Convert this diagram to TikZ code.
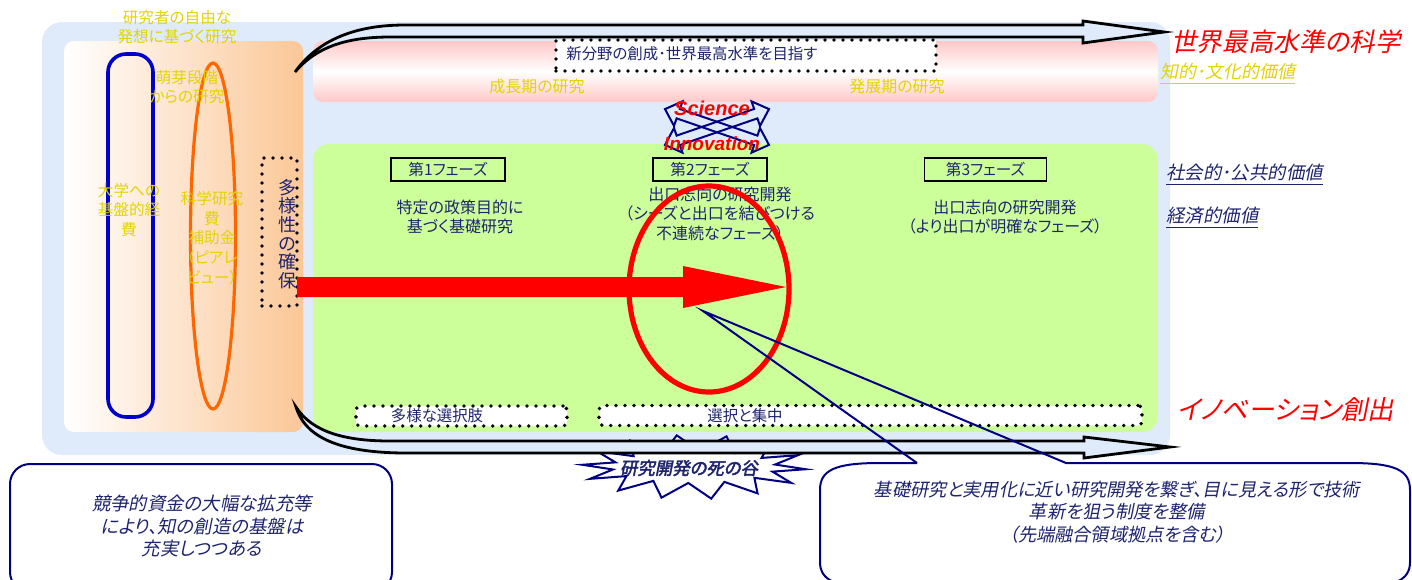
\documentclass[tikz,border=0pt]{standalone}
\usepackage{fontspec}
\setmainfont{Liberation Sans}
\newfontfamily\jp[RawFeature=+palt]{Noto Sans CJK JP}
\newfontfamily\jpi[RawFeature=+palt,FakeSlant=0.2]{Noto Sans CJK JP}
\newfontfamily\jpbi[RawFeature=+palt,FakeSlant=0.2,FakeBold=2.5]{Noto Sans CJK JP}
\newcommand\fsz[2]{\fontsize{#1pt}{#2pt}\selectfont}
\definecolor{bgblue}{HTML}{DFEBFA}
\definecolor{peach}{HTML}{FBC797}
\definecolor{pinkb}{HTML}{FFC8C8}
\definecolor{greenb}{HTML}{CCFF99}
\definecolor{ytext}{HTML}{E2D400}
\definecolor{navyt}{HTML}{1E246E}
\definecolor{navyl}{HTML}{000080}
\definecolor{orng}{HTML}{FF6600}
\definecolor{blu}{HTML}{0000CC}
\begin{document}
\begin{tikzpicture}[x=0.5pt,y=-0.5pt,
  jt/.style={inner sep=0pt, align=center},
  dotbox/.style={draw=black, line width=1.9pt, line cap=round, dash pattern=on 0pt off 4.5pt, fill=white, inner sep=0pt},
  phbox/.style={draw=black, line width=0.8pt, inner sep=0pt, minimum height=11.3pt, text=navyt, font=\jp\fsz{7.8}{8}},
  dbarrow/.style={draw=black, line width=1.4pt, fill=bgblue, line join=miter},
  xarrow/.style={draw=navyl, line width=1pt, line join=miter},
]
\useasboundingbox (0,0) rectangle (1412,579);
\clip (0,0) rectangle (1412,579);

% backgrounds
\fill[bgblue, rounded corners=10pt] (42,22) rectangle (1170,455);
\shade[left color=white, right color=peach, rounded corners=5pt] (64,41) rectangle (303,432);
\draw[blu, line width=1.8pt, rounded corners=9pt] (108,54) rectangle (153,417);
\draw[orng, line width=1.6pt] (213,236) ellipse [x radius=11.25pt, y radius=86.5pt];
\shade[top color=pinkb, bottom color=pinkb, middle color=white, rounded corners=5pt] (313,41) rectangle (1158,102);
\fill[greenb, rounded corners=8pt] (313,144) rectangle (1158,432);

% left yellow texts
\node[jt, text=ytext, font=\jp\fsz{7.8}{9.8}] (t1) at (177,27) {研究者の自由な\\発想に基づく研究};
\node[jt, text=ytext, font=\jp\fsz{7.8}{9.6}] (t2) at (187,87) {萌芽段階\\からの研究};
\node[jt, text=ytext, font=\jp\fsz{7.8}{9.8}] (t3) at (129,210) {大学への\\基盤的経\\費};
\node[jt, text=ytext, font=\jp\fsz{7.8}{9.8}] (t4) at (212,238) {科学研究\\費\\補助金\\（ピアレ\\ビュー）};

% diversity box
\node[dotbox, fill=none, minimum width=17.5pt, minimum height=74pt] (divbox) at (279.5,232) {};
\node[jt, text=navyt, font=\jp\fsz{9}{9.3}] (divtxt) at (287,234) {多\\様\\性\\の\\確\\保};

% pink band texts
\node[dotbox, minimum width=190pt, minimum height=15.5pt] (newbox) at (746,55.5) {};
\node[jt, anchor=west, text=navyt, font=\jp\fsz{7.7}{9}] (newtxt) at (566,54) {新分野の創成･世界最高水準を目指す};
\node[jt, text=ytext, font=\jp\fsz{8}{9}] (grow) at (537,86) {成長期の研究};
\node[jt, text=ytext, font=\jp\fsz{8}{9}] (devel) at (897,86) {発展期の研究};

% phases
\node[phbox, minimum width=57pt] (ph1) at (448,169.5) {第1フェーズ};
\node[phbox, minimum width=57pt] (ph2) at (710,169.5) {第2フェーズ};
\node[phbox, minimum width=61pt] (ph3) at (985.5,169.5) {第3フェーズ};
\node[jt, text=navyt, font=\jp\fsz{8}{9.6}] (p1t) at (460,217) {特定の政策目的に\\基づく基礎研究};
\node[jt, text=navyt, font=\jp\fsz{8}{9.8}] (p2t) at (720,214) {出口志向の研究開発\\（シーズと出口を結びつける\\不連続なフェーズ）};
\node[jt, text=navyt, font=\jp\fsz{8}{9.6}] (p3t) at (1005,217) {出口志向の研究開発\\（より出口が明確なフェーズ）};

% bottom dotted boxes
\node[dotbox, rounded corners=2pt, minimum width=105.5pt, minimum height=10pt] (optbox) at (461.5,416) {};
\node[jt, text=navyt, font=\jp\fsz{7.7}{9}] (opttxt) at (437,416) {多様な選択肢};
\node[dotbox, rounded corners=2pt, minimum width=271.5pt, minimum height=10pt] (selbox) at (870.5,415.5) {};
\node[jt, text=navyt, font=\jp\fsz{7.7}{9}] (seltxt) at (745,416) {選択と集中};

% red arrow and ellipse
\fill[red] (297,277) -- (683,277) -- (683,266) -- (786,287) -- (683,308) -- (683,297) -- (297,297) -- cycle;
\draw[red, line width=2.6pt] (709,289) ellipse [x radius=40pt, y radius=51.5pt];

% top double arrow
\draw[dbarrow] (295,72) .. controls (318,40) and (355,25) .. (405,25) -- (1083,25) -- (1083,21) -- (1164,32) -- (1083,43) -- (1083,37) -- (391,37) .. controls (350,37) and (318,45) .. (295,72) -- cycle;

% starburst (behind bottom arrow)
\coordinate (sbc) at (694,467);
\draw[navyl, line width=1pt, fill=white, line join=miter]
  plot[samples at={0,1,...,27}, variable=\k]
  ({694 + (112 - 30*mod(\k,2))*cos(12.857*\k + 4)}, {467 + (32 - 16*mod(\k,2))*sin(12.857*\k + 4)}) -- cycle;
% bottom double arrow
\draw[dbarrow] (296,407) .. controls (312,432) and (345,441) .. (390,441) -- (1084,441) -- (1084,437) -- (1170,447) -- (1084,458) -- (1084,453) -- (407,453) .. controls (345,453) and (306,440) .. (296,407) -- cycle;
\node[jt, text=navyt, font=\jpbi\fsz{8.7}{9}] (sbt) at (689,468) {研究開発の死の谷};

% science / innovation cross
\begin{scope}[shift={(717,127)}, rotate=19]
\draw[xarrow] (-55,0) -- (-41,-13) -- (-41,-5) -- (41,-5) -- (41,-13) -- (55,0) -- (41,13) -- (41,5) -- (-41,5) -- (-41,13) -- cycle;
\end{scope}
\begin{scope}[shift={(717,127)}, rotate=-19]
\draw[xarrow] (-55,0) -- (-41,-13) -- (-41,-5) -- (41,-5) -- (41,-13) -- (55,0) -- (41,13) -- (41,5) -- (-41,5) -- (-41,13) -- cycle;
\end{scope}
\node[jt, text=red, font=\bfseries\itshape\fsz{10}{11}] (sci) at (712,108) {Science};
\node[jt, text=red, font=\bfseries\itshape\fsz{9.5}{11}] (inno) at (712,144) {Innovation};

% right labels
\node[jt, text=red, font=\jpi\fsz{12.8}{14}] (r1) at (1286,42) {世界最高水準の科学};
\node[jt, anchor=west, text=ytext, font=\jpi\fsz{9}{10}] (r2) at (1160,74) {\underline{知的･文化的価値}};
\node[jt, anchor=west, text=navyt, font=\jpi\fsz{9.2}{10}] (r3) at (1166,175) {\underline{社会的･公共的価値}};
\node[jt, anchor=west, text=navyt, font=\jpi\fsz{9.2}{10}] (r4) at (1166,218) {\underline{経済的価値}};
\node[jt, text=red, font=\jpi\fsz{13.2}{14}] (r5) at (1286,410) {イノベーション創出};

% bottom-left box
\draw[navyl, line width=1pt, fill=white, rounded corners=10pt] (10,464) rectangle (392,592);
\node[jt, text=navyt, font=\jpi\fsz{9.2}{11.2}] (b1) at (202,526) {競争的資金の大幅な拡充等\\により、知の創造の基盤は\\充実しつつある};

% callout
\coordinate (tip) at (703,311);
\coordinate (cpa) at (917,463);
\coordinate (cpb) at (1066,463);
\fill[white] (880,463) -- (1350,463) .. controls (1395,463) and (1410,470) .. (1410,490) -- (1410,562) .. controls (1410,580) and (1395,588) .. (1350,588) -- (880,588) .. controls (835,588) and (820,580) .. (820,562) -- (820,490) .. controls (820,470) and (835,463) .. (880,463) -- cycle;
\draw[navyl, line width=1pt, line join=miter] (cpa) -- (tip) -- (cpb) -- (1350,463) .. controls (1395,463) and (1410,470) .. (1410,490) -- (1410,562) .. controls (1410,580) and (1395,588) .. (1350,588) -- (880,588) .. controls (835,588) and (820,580) .. (820,562) -- (820,490) .. controls (820,470) and (835,463) .. (880,463) -- (cpa);
\node[jt, text=navyt, font=\jpi\fsz{9.1}{11.2}] (c1) at (1117,512) {基礎研究と実用化に近い研究開発を繋ぎ、目に見える形で技術\\革新を狙う制度を整備\\（先端融合領域拠点を含む）};
\end{tikzpicture}
\end{document}
